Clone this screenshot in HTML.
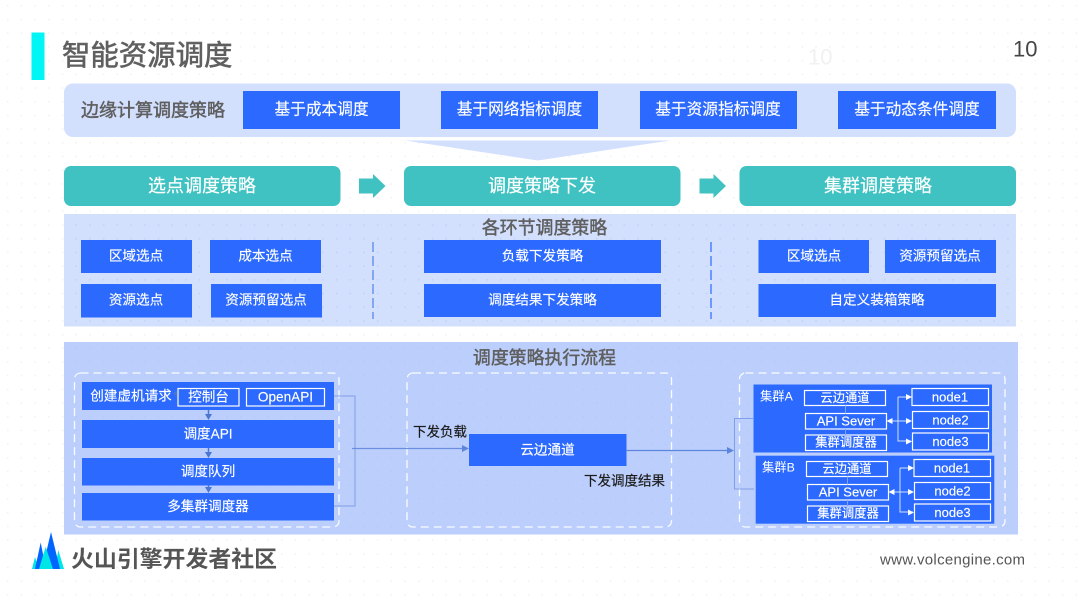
<!DOCTYPE html>
<html lang="zh">
<head>
<meta charset="utf-8">
<style>
html,body{margin:0;padding:0;background:#fff;width:1080px;height:608px;overflow:hidden}
svg{display:block}
text{font-family:"Liberation Sans","Noto Sans CJK SC",sans-serif;}
.w{fill:#fff;text-anchor:middle;dominant-baseline:central;stroke:#fff;stroke-width:.15}
.b{fill:#2b69ff}
.o{fill:none;stroke:#fff;stroke-width:1.2}
.g{fill:#5f5f5f;dominant-baseline:central;stroke:#5f5f5f;stroke-width:.45}
.l{stroke:#7f9fe6;stroke-width:1;fill:none}
.d{fill:none;stroke:#fff;stroke-width:1.3;stroke-dasharray:8 5;opacity:.9}
.t13{font-size:13.6px}.t12{font-size:12.300px}
</style>
</head>
<body>
<svg width="1080" height="608" viewBox="0 0 1080 608" xmlns="http://www.w3.org/2000/svg">
<defs>
<pattern id="dots" width="13.7" height="13.7" patternUnits="userSpaceOnUse" x="1" y="-1">
<circle cx="6.8" cy="6.8" r=".8" fill="#eeeeee"/>
</pattern>
<pattern id="dots2" width="13.7" height="13.7" patternUnits="userSpaceOnUse" x="1" y="-1">
<circle cx="6.8" cy="6.8" r=".8" fill="#a9c0f5" opacity=".55"/>
</pattern>
</defs>
<rect width="1080" height="608" fill="#fff"/>
<rect width="1080" height="608" fill="url(#dots)"/>

<!-- Header -->
<rect x="31.500" y="32.500" width="13" height="47.500" fill="#00f6f6"/>
<text x="62" y="56" class="g" style="font-size:28.400px;stroke-width:.6">智能资源调度</text>
<text x="808" y="57" style="font-size:22px;dominant-baseline:central" fill="#f1f1f1">10</text>
<text x="1013" y="49" style="font-size:22px;dominant-baseline:central" fill="#444">10</text>

<!-- Top panel -->
<rect x="64" y="83.500" width="952" height="53.500" rx="9" fill="#d2dffd"/>
<text x="81" y="110.500" class="g" style="font-size:18px">边缘计算调度策略</text>
<rect x="243" y="91" width="157" height="38" class="b"/>
<text x="321.500" y="110" class="w" style="font-size:15.700px">基于成本调度</text>
<rect x="441" y="91" width="157" height="38" class="b"/>
<text x="519.500" y="110" class="w" style="font-size:15.700px">基于网络指标调度</text>
<rect x="640" y="91" width="157" height="38" class="b"/>
<text x="718" y="110" class="w" style="font-size:15.700px">基于资源指标调度</text>
<rect x="838" y="91" width="158" height="38" class="b"/>
<text x="917" y="110" class="w" style="font-size:15.700px">基于动态条件调度</text>
<polygon points="405,140.500 670,140.500 538,160.500" fill="#d2dffd"/>

<!-- Teal bars -->
<rect x="64" y="166" width="276.500" height="40" rx="7" fill="#40c2c2"/>
<text x="202" y="186" class="w" style="font-size:18px">选点调度策略</text>
<rect x="404" y="166" width="276.500" height="40" rx="7" fill="#40c2c2"/>
<text x="542" y="186" class="w" style="font-size:18px">调度策略下发</text>
<rect x="739.500" y="166" width="276.500" height="40" rx="7" fill="#40c2c2"/>
<text x="878" y="186" class="w" style="font-size:18px">集群调度策略</text>
<polygon points="359,178.500 373,178.500 373,174 385.500,186 373,198 373,193.500 359,193.500" fill="#40c2c2"/>
<polygon points="699.500,178.500 713.500,178.500 713.500,174 726,186 713.500,198 713.500,193.500 699.500,193.500" fill="#40c2c2"/>

<!-- Middle panel -->
<rect x="64" y="214" width="952" height="112.500" fill="#d2dffd"/>
<rect x="64" y="214" width="952" height="112.500" fill="url(#dots2)"/>
<text x="544.500" y="228" class="g" text-anchor="middle" style="font-size:17.900px">各环节调度策略</text>
<rect x="81" y="240" width="111" height="33" class="b"/>
<text x="136" y="256" class="w t13">区域选点</text>
<rect x="210" y="240" width="111" height="33" class="b"/>
<text x="265.500" y="256" class="w t13">成本选点</text>
<rect x="81" y="284" width="111" height="33.500" class="b"/>
<text x="136" y="300" class="w t13">资源选点</text>
<rect x="211" y="284" width="111" height="33.500" class="b"/>
<text x="266" y="300" class="w t13">资源预留选点</text>
<rect x="424" y="240" width="237" height="33" class="b"/>
<text x="542.500" y="256" class="w t13">负载下发策略</text>
<rect x="424" y="284" width="237" height="33" class="b"/>
<text x="542.500" y="300" class="w t13">调度结果下发策略</text>
<rect x="758.500" y="240" width="110.500" height="33" class="b"/>
<text x="814" y="256" class="w t13">区域选点</text>
<rect x="885" y="240" width="111" height="33" class="b"/>
<text x="940" y="256" class="w t13">资源预留选点</text>
<rect x="758.500" y="284" width="237.500" height="33" class="b"/>
<text x="877" y="300" class="w t13">自定义装箱策略</text>
<line x1="373" y1="242" x2="373" y2="319" stroke="#4f80f0" stroke-width="1.200" stroke-dasharray="10 4"/>
<line x1="711" y1="242" x2="711" y2="319" stroke="#2b69ff" stroke-width="1.200" stroke-dasharray="10 4"/>

<!-- Bottom panel -->
<rect x="64" y="342" width="954" height="192.500" fill="#bccffc"/>
<rect x="64" y="342" width="954" height="192.500" fill="url(#dots2)"/>
<text x="544.500" y="358" class="g" text-anchor="middle" style="font-size:17.900px">调度策略执行流程</text>

<rect x="74.500" y="373" width="264.500" height="154" rx="6" class="d"/>
<rect x="407" y="373" width="264.500" height="154" rx="6" class="d"/>
<rect x="739.500" y="373" width="265.500" height="154" rx="6" class="d"/>

<!-- Left stack -->
<rect x="82" y="382" width="252" height="28" class="b"/>
<text x="131" y="396" class="w t13">创建虚机请求</text>
<rect x="178" y="388.500" width="61" height="17.500" class="o"/>
<text x="208.500" y="397" class="w t13">控制台</text>
<rect x="246.500" y="388.500" width="78" height="17.500" class="o"/>
<text x="285.500" y="397" class="w t13">OpenAPI</text>
<polygon points="177.500,390 173,393.500 177.500,397" fill="#4a76d4"/>
<rect x="82" y="420" width="252" height="28" class="b"/>
<text x="208" y="434" class="w t13">调度API</text>
<rect x="82" y="458" width="252" height="27.500" class="b"/>
<text x="208" y="471.500" class="w t13">调度队列</text>
<rect x="82" y="493" width="252" height="27.500" class="b"/>
<text x="208" y="506.500" class="w t13">多集群调度器</text>
<path d="M208.500 410V415M208.500 448V453M208.500 485.500V489" stroke="#4a76d4" stroke-width="1.500"/>
<polygon points="205,414 212,414 208.500,420" fill="#4a76d4"/>
<polygon points="205,452 212,452 208.500,458" fill="#4a76d4"/>
<polygon points="205,487 212,487 208.500,493" fill="#4a76d4"/>
<path d="M334 396H355V506H334" class="l"/>
<line x1="352" y1="448.500" x2="463" y2="448.500" stroke="#6a8fe0" stroke-width="1.200"/>
<polygon points="462,445 469,448.500 462,452" fill="#5c85dc"/>

<!-- Center -->
<rect x="469" y="434" width="157.500" height="32" class="b"/>
<text x="547.500" y="450" class="w t13">云边通道</text>
<text x="413" y="432" style="font-size:13.500px;dominant-baseline:central;stroke:#1c1c1c;stroke-width:.2" fill="#1c1c1c">下发负载</text>
<text x="584" y="481" style="font-size:13.500px;dominant-baseline:central;stroke:#1c1c1c;stroke-width:.2" fill="#1c1c1c">下发调度结果</text>
<line x1="626" y1="450.500" x2="729" y2="450.500" stroke="#5c85dc" stroke-width="1.200"/>
<polygon points="727,447 734,450.500 727,454" fill="#5c85dc"/>
<path d="M753 418.500H734.500V489H754" class="l"/>

<!-- Cluster A -->
<rect x="753.500" y="384.500" width="238.500" height="68" class="b"/>
<text x="760" y="396.500" style="font-size:12.300px;dominant-baseline:central" fill="#fff">集群A</text>
<rect x="804.500" y="390.500" width="81" height="15" class="o"/>
<text x="845" y="398" class="w t12">云边通道</text>
<rect x="805.500" y="413.500" width="81" height="15.500" class="o"/>
<text x="846" y="421" class="w" style="font-size:13px">API Sever</text>
<rect x="805.500" y="435" width="81" height="15.500" class="o"/>
<text x="846" y="442.500" class="w t12">集群调度器</text>
<path d="M845.500 405.500V413.500M845.500 429V435" stroke="#7fa2f2" stroke-width="1"/>
<path d="M888 421H911M898 397V441H911M898 397H911" stroke="#cfe0ff" stroke-width="1" fill="none"/>
<polygon points="886.500,421 892.500,418 892.500,424" fill="#fff"/>
<polygon points="912,397 906,394 906,400" fill="#fff"/>
<polygon points="912,421 906,418 906,424" fill="#fff"/>
<polygon points="912,441.500 906,438.500 906,444.500" fill="#fff"/>
<rect x="912" y="388.500" width="76.500" height="17" class="o"/>
<text x="950" y="397" class="w" style="font-size:13px">node1</text>
<rect x="912.500" y="411.500" width="76" height="17" class="o"/>
<text x="950.500" y="420" class="w" style="font-size:13px">node2</text>
<rect x="912.500" y="433" width="76" height="17" class="o"/>
<text x="950.500" y="441.500" class="w" style="font-size:13px">node3</text>

<!-- Cluster B -->
<rect x="755.700" y="455.700" width="238.600" height="68" class="b"/>
<text x="762" y="467.500" style="font-size:12.300px;dominant-baseline:central" fill="#fff">集群B</text>
<rect x="806.500" y="461.500" width="81" height="15" class="o"/>
<text x="847" y="469" class="w t12">云边通道</text>
<rect x="807.500" y="484.500" width="81" height="15.500" class="o"/>
<text x="848" y="492" class="w" style="font-size:13px">API Sever</text>
<rect x="807.500" y="506" width="81" height="15.500" class="o"/>
<text x="848" y="513.500" class="w t12">集群调度器</text>
<path d="M847.500 476.500V484.500M847.500 500V506" stroke="#7fa2f2" stroke-width="1"/>
<path d="M890 492H913M900 468V512H913M900 468H913" stroke="#cfe0ff" stroke-width="1" fill="none"/>
<polygon points="888.500,492 894.500,489 894.500,495" fill="#fff"/>
<polygon points="914,468 908,465 908,471" fill="#fff"/>
<polygon points="914,492 908,489 908,495" fill="#fff"/>
<polygon points="914,512.500 908,509.500 908,515.500" fill="#fff"/>
<rect x="914" y="459.500" width="76.500" height="17" class="o"/>
<text x="952" y="468" class="w" style="font-size:13px">node1</text>
<rect x="914.500" y="482.500" width="76" height="17" class="o"/>
<text x="952.500" y="491" class="w" style="font-size:13px">node2</text>
<rect x="914.500" y="504" width="76" height="17" class="o"/>
<text x="952.500" y="512.500" class="w" style="font-size:13px">node3</text>

<!-- Footer logo -->
<polygon points="32,569 35,557 39,569" fill="#00e5e5"/>
<polygon points="55,569 58.300,550 64,569" fill="#00e5e5"/>
<polygon points="35,569 40.700,542.500 46,569" fill="#0065ff"/>
<polygon points="42.300,569 51,532 60,569" fill="#0065ff"/>
<polygon points="39,569 45.700,546.700 53,569" fill="#00e5e5"/>
<text x="71" y="559" style="font-size:22.900px;font-weight:700;dominant-baseline:central" fill="#555">火山引擎开发者社区</text>
<text x="880" y="560" style="font-size:15px;dominant-baseline:central" fill="#555" textLength="145">www.volcengine.com</text>
</svg>
</body>
</html>
